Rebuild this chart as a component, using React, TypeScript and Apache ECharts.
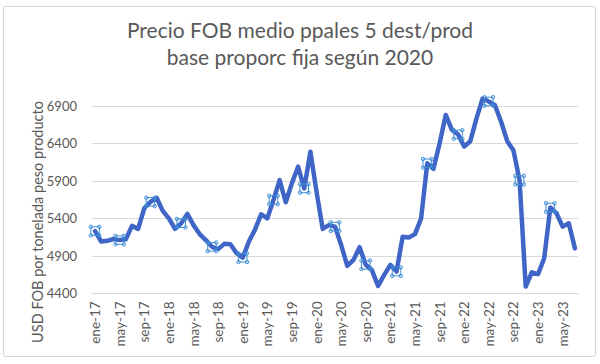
import React, { useEffect, useRef } from "react";
import * as echarts from "echarts";

const monthNames = ["ene", "feb", "mar", "abr", "may", "jun", "jul", "ago", "sep", "oct", "nov", "dic"];
const years = ["17", "18", "19", "20", "21", "22", "23"];
const lastYearMonths = 7; // ene-23 .. jul-23

const categories: string[] = [];
years.forEach((y, yi) => {
  const n = yi === years.length - 1 ? lastYearMonths : 12;
  for (let m = 0; m < n; m++) categories.push(`${monthNames[m]}-${y}`);
});

const precio = [
  5230, 5090, 5100, 5125, 5110, 5120, 5300, 5260, 5535, 5620, 5675, 5500,
  5400, 5260, 5335, 5460, 5310, 5190, 5110, 5020, 4990, 5060, 5055, 4935,
  4875, 5090, 5250, 5455, 5400, 5645, 5910, 5615, 5870, 6090, 5800, 6290,
  5755, 5260, 5310, 5290, 5045, 4765, 4845, 5015, 4780, 4710, 4500, 4645,
  4780, 4690, 5155, 5145, 5190, 5400, 6135, 6060, 6400, 6780, 6580, 6520,
  6360, 6430, 6735, 7000, 6960, 6910, 6690, 6430, 6310, 5910, 4490, 4680,
  4655, 4865, 5545, 5470, 5290, 5335, 5000,
];

const markerIdx = [0, 4, 9, 14, 19, 24, 29, 34, 39, 44, 49, 54, 59, 64, 69, 74];

const yTicks = [4400, 4900, 5400, 5900, 6400, 6900];

const titleText = "Precio FOB medio ppales 5 dest/prod\nbase proporc fija según 2020";
const yName = "USD FOB por tonelada peso producto";

const handlePath =
  "path://M3,3 L13,3 L13,13 L3,13 Z " +
  "M1,3 A2,2 0 1,0 5,3 A2,2 0 1,0 1,3 Z " +
  "M11,3 A2,2 0 1,0 15,3 A2,2 0 1,0 11,3 Z " +
  "M1,13 A2,2 0 1,0 5,13 A2,2 0 1,0 1,13 Z " +
  "M11,13 A2,2 0 1,0 15,13 A2,2 0 1,0 11,13 Z";

export default function App() {
  const ref = useRef<HTMLDivElement>(null);
  useEffect(() => {
    if (!ref.current) return;
    const chart = echarts.init(ref.current, undefined, { renderer: "svg" });
    const font = "Lato, 'Noto Sans', sans-serif";
    chart.setOption({
      animation: false,
      backgroundColor: "#ffffff",
      textStyle: { fontFamily: font },
      title: {
        text: titleText,
        left: "center",
        top: 11,
        textStyle: {
          fontSize: 21,
          lineHeight: 27,
          color: "#595959",
          fontWeight: "normal",
          fontFamily: font,
        },
      },
      graphic: [
        {
          type: "rect",
          shape: { x: 3.5, y: 6.5, width: 592, height: 350, r: 2 },
          style: { fill: "none", stroke: "#d4d4d4", lineWidth: 1 },
          silent: true,
          z: -1,
        },
        {
          type: "text",
          x: 37,
          y: 222,
          rotation: Math.PI / 2,
          style: {
            text: yName,
            fontSize: 14.5,
            fill: "#595959",
            fontFamily: font,
            align: "center",
            verticalAlign: "middle",
          },
        },
      ],
      grid: { left: 92, right: 22, top: 68.5, bottom: 70.7, containLabel: false },
      xAxis: {
        type: "category",
        data: categories,
        boundaryGap: true,
        axisLine: { show: true, lineStyle: { color: "#d9d9d9", width: 1 } },
        axisTick: { show: false },
        axisLabel: {
          interval: 3,
          rotate: 90,
          margin: 8,
          fontSize: 13.5,
          color: "#595959",
          fontFamily: font,
        },
        splitLine: { show: false },
      },
      yAxis: {
        type: "value",
        min: yTicks[0],
        max: 7400,
        interval: 500,
        axisLine: { show: false },
        axisTick: { show: false },
        axisLabel: {
          margin: 15,
          fontSize: 13,
          color: "#595959",
          fontFamily: font,
          showMaxLabel: false,
          formatter: (v: number) => (yTicks.includes(v) ? String(v) : ""),
        },
        splitLine: { show: true, showMaxLine: false, lineStyle: { color: "#d9d9d9", width: 1 } },
      },
      series: [
        {
          type: "line",
          data: precio,
          smooth: false,
          showSymbol: true,
          showAllSymbol: true,
          symbol: (_v: any, p: any) => (markerIdx.includes(p.dataIndex) ? handlePath : "none"),
          symbolSize: 12,
          itemStyle: { color: "rgba(255,255,255,0)", borderColor: "#3f8fd6", borderWidth: 1 },
          lineStyle: { color: "#3f66c6", width: 4.5, join: "round", cap: "round" },
          z: 3,
        },
      ],
    });
    return () => chart.dispose();
  }, []);
  return (
    <div
      ref={ref}
      style={{ position: "fixed", left: 0, top: 0, width: 600, height: 364 }}
    />
  );
}
